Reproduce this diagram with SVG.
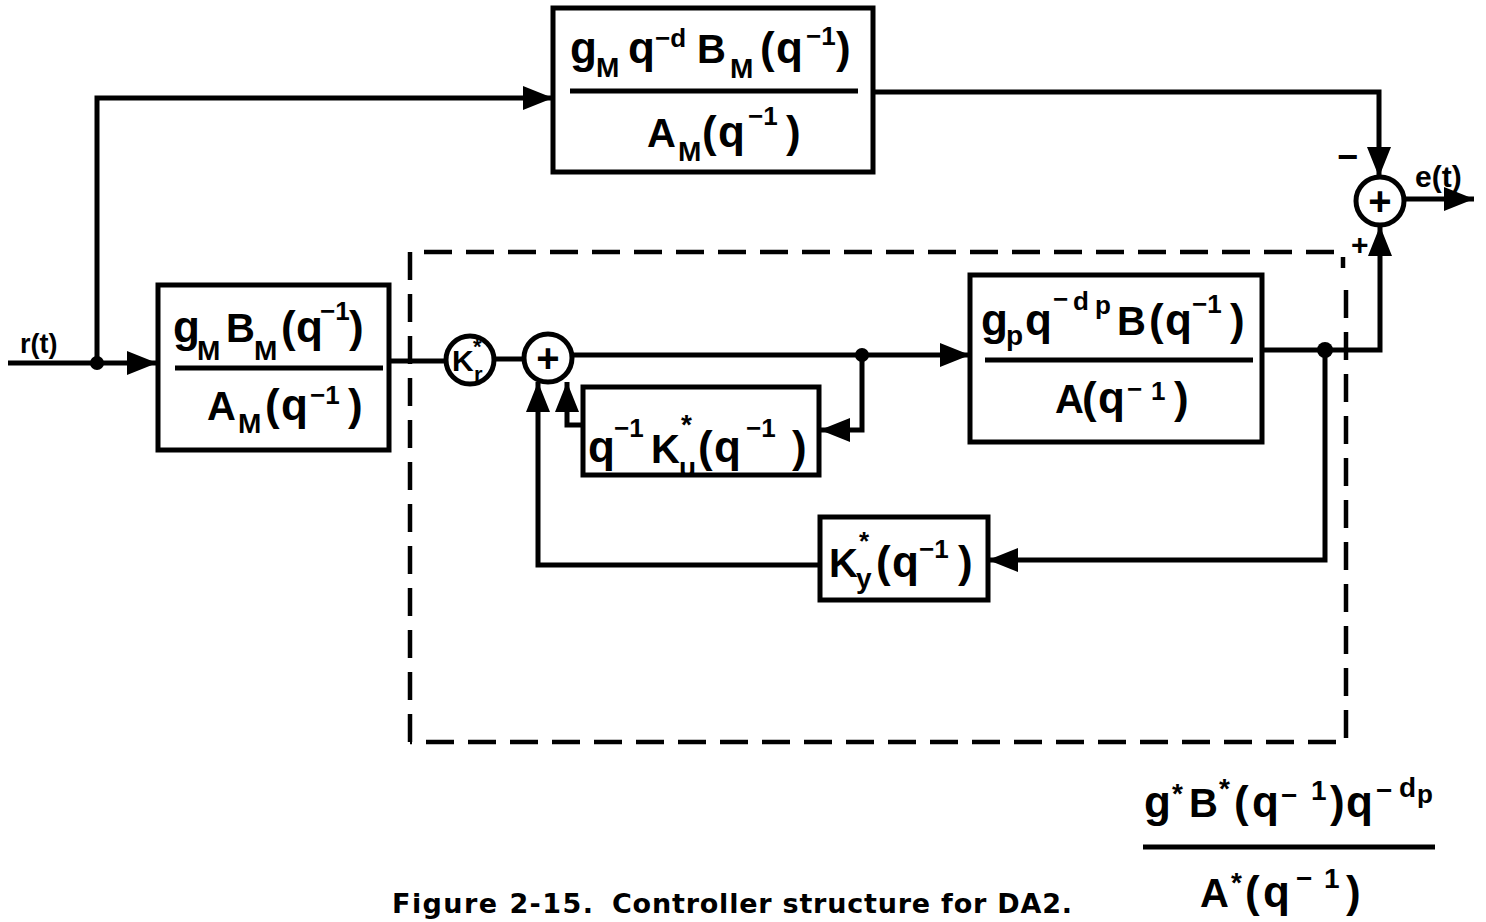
<svg xmlns="http://www.w3.org/2000/svg" width="1486" height="922" viewBox="0 0 1486 922">
<style>
.t{font-family:"Liberation Sans",Arial,sans-serif;font-weight:bold;fill:#000}
.cap{font-family:"DejaVu Sans","Liberation Sans",sans-serif;font-weight:bold;font-size:27px;fill:#000}
.L{font-size:40px}.q{font-size:44px}.s{font-size:26px}.b{font-size:28px}
.box{fill:#fff;stroke:#000;stroke-width:5}
.w{fill:none;stroke:#000;stroke-width:5;stroke-linejoin:miter}
.frac{stroke:#000;stroke-width:5}
.dash{fill:none;stroke:#000;stroke-width:4.5;stroke-dasharray:28 14}
.circ{fill:#fff;stroke:#000;stroke-width:5}
</style>
<defs>
<marker id="ah" markerUnits="userSpaceOnUse" markerWidth="32" markerHeight="24" refX="30" refY="12" orient="auto">
<path d="M0,0 L30,12 L0,24 z" fill="#000"/>
</marker>
</defs>
<rect width="1486" height="922" fill="#fff"/>

<g id="dashed-boundary">
<path class="dash" d="M410,742 V252 H1343 V268 M1346,290 V742 H410"/>
</g>

<g id="connectors">
<path class="w" d="M8,363 H157" marker-end="url(#ah)"/>
<path class="w" d="M97,363 V98 H553" marker-end="url(#ah)"/>
<path class="w" d="M873,92 H1379 V177" marker-end="url(#ah)"/>
<path class="w" d="M390,361 H446"/>
<path class="w" d="M494,359 H524"/>
<path class="w" d="M572,355 H970" marker-end="url(#ah)"/>
<path class="w" d="M862,355 V430 H820" marker-end="url(#ah)"/>
<path class="w" d="M583,425 H567 V382" marker-end="url(#ah)"/>
<path class="w" d="M820,565 H538 V382" marker-end="url(#ah)"/>
<path class="w" d="M1262,350 H1380 V226" marker-end="url(#ah)"/>
<path class="w" d="M1325,350 V560 H988" marker-end="url(#ah)"/>
<path class="w" d="M1404,199 H1474" marker-end="url(#ah)"/>
<circle cx="97" cy="363" r="7"/>
<circle cx="862" cy="355" r="7"/>
<circle cx="1325" cy="350" r="8"/>
</g>

<g id="input-label">
<text class="t" x="20" y="353" font-size="27">r(t)</text>
</g>

<g id="reference-model">
<rect class="box" x="553" y="8" width="320" height="164"/>
<line class="frac" x1="570" y1="91" x2="858" y2="91"/>
<text class="t"><tspan class="q" x="570" y="63">g</tspan><tspan class="b" x="596" y="77">M</tspan><tspan class="q" x="628" y="63">q</tspan><tspan class="s" x="655" y="47">−d</tspan><tspan class="L" x="697" y="63">B</tspan><tspan class="b" x="730" y="78">M</tspan><tspan class="q" x="760" y="63">(</tspan><tspan class="q" x="776" y="63">q</tspan><tspan class="s" x="806" y="45">−1</tspan><tspan class="q" x="836" y="63">)</tspan></text>
<text class="t"><tspan class="L" x="647" y="147">A</tspan><tspan class="b" x="678" y="161">M</tspan><tspan class="q" x="702" y="147">(</tspan><tspan class="q" x="718" y="147">q</tspan><tspan class="s" x="748" y="125">−1</tspan><tspan class="q" x="786" y="147">)</tspan></text>
</g>

<g id="prefilter">
<rect class="box" x="158" y="285" width="231" height="165"/>
<line class="frac" x1="175" y1="368" x2="383" y2="368"/>
<text class="t"><tspan class="q" x="173" y="342">g</tspan><tspan class="b" x="197" y="360">M</tspan><tspan class="L" x="226" y="342">B</tspan><tspan class="b" x="254" y="360">M</tspan><tspan class="q" x="281" y="342">(</tspan><tspan class="q" x="296" y="342">q</tspan><tspan class="s" x="320" y="320">−1</tspan><tspan class="q" x="349" y="342">)</tspan></text>
<text class="t"><tspan class="L" x="207" y="420">A</tspan><tspan class="b" x="238" y="433">M</tspan><tspan class="q" x="265" y="420">(</tspan><tspan class="q" x="281" y="420">q</tspan><tspan class="s" x="310" y="404">−1</tspan><tspan class="q" x="348" y="420">)</tspan></text>
</g>

<g id="kr-gain">
<circle class="circ" cx="470" cy="360" r="24"/>
<text class="t"><tspan x="452" y="371" font-size="30">K</tspan><tspan x="473" y="354" font-size="22">*</tspan><tspan x="474" y="382" font-size="22">r</tspan></text>
</g>

<g id="sum-inner">
<circle class="circ" cx="548" cy="358" r="24"/>
<text class="t" x="548" y="372" font-size="40" text-anchor="middle">+</text>
</g>

<g id="ku-block">
<rect class="box" x="583" y="387" width="236" height="88"/>
<text class="t"><tspan class="q" x="588" y="462">q</tspan><tspan class="s" x="614" y="437">−1</tspan><tspan class="L" x="651" y="463">K</tspan><tspan x="681" y="434" font-size="28">*</tspan><tspan class="b" x="679" y="477">u</tspan><tspan class="q" x="698" y="462">(</tspan><tspan class="q" x="714" y="462">q</tspan><tspan class="s" x="746" y="437">−1</tspan><tspan class="q" x="792" y="462">)</tspan></text>
</g>

<g id="plant">
<rect class="box" x="970" y="275" width="292" height="167"/>
<line class="frac" x1="985" y1="360" x2="1253" y2="360"/>
<text class="t"><tspan class="q" x="981" y="335">g</tspan><tspan class="b" x="1006" y="345">p</tspan><tspan class="q" x="1025" y="335">q</tspan><tspan class="s" x="1053" y="308">−</tspan><tspan class="s" x="1073" y="310">d</tspan><tspan class="s" x="1095" y="314">p</tspan><tspan class="L" x="1117" y="335">B</tspan><tspan class="q" x="1149" y="335">(</tspan><tspan class="q" x="1165" y="335">q</tspan><tspan class="s" x="1192" y="313">−1</tspan><tspan class="q" x="1230" y="335">)</tspan></text>
<text class="t"><tspan class="L" x="1055" y="413">A</tspan><tspan class="q" x="1082" y="413">(</tspan><tspan class="q" x="1098" y="413">q</tspan><tspan class="s" x="1127" y="398">−</tspan><tspan class="s" x="1151" y="400">1</tspan><tspan class="q" x="1174" y="413">)</tspan></text>
</g>

<g id="ky-block">
<rect class="box" x="820" y="517" width="168" height="83"/>
<text class="t"><tspan class="L" x="829" y="577">K</tspan><tspan x="859" y="550" font-size="26">*</tspan><tspan class="b" x="856" y="588">y</tspan><tspan class="q" x="876" y="577">(</tspan><tspan class="q" x="892" y="577">q</tspan><tspan class="s" x="919" y="558">−1</tspan><tspan class="q" x="958" y="577">)</tspan></text>
</g>

<g id="sum-output">
<circle class="circ" cx="1380" cy="201" r="24"/>
<text class="t" x="1380" y="215" font-size="40" text-anchor="middle">+</text>
<text class="t" x="1337" y="169" font-size="36">−</text>
<text class="t" x="1351" y="255" font-size="30">+</text>
<text class="t" x="1415" y="187" font-size="30">e(t)</text>
</g>

<g id="closed-loop-formula">
<line class="frac" x1="1143" y1="847" x2="1435" y2="847"/>
<text class="t"><tspan class="q" x="1144" y="817">g</tspan><tspan x="1172" y="803" font-size="28">*</tspan><tspan class="L" x="1189" y="817">B</tspan><tspan x="1219" y="798" font-size="28">*</tspan><tspan class="q" x="1234" y="817">(</tspan><tspan class="q" x="1252" y="817">q</tspan><tspan class="b" x="1281" y="805">−</tspan><tspan class="b" x="1311" y="800">1</tspan><tspan class="q" x="1330" y="817">)</tspan><tspan class="q" x="1346" y="817">q</tspan><tspan class="b" x="1376" y="800">−</tspan><tspan class="b" x="1399" y="797">d</tspan><tspan class="s" x="1417" y="803">p</tspan></text>
<text class="t"><tspan class="L" x="1200" y="907">A</tspan><tspan x="1231" y="892" font-size="28">*</tspan><tspan class="q" x="1245" y="907">(</tspan><tspan class="q" x="1263" y="907">q</tspan><tspan class="b" x="1296" y="888">−</tspan><tspan class="b" x="1324" y="888">1</tspan><tspan class="q" x="1346" y="907">)</tspan></text>
</g>

<g id="caption">
<text class="cap" x="392" y="913" textLength="201" lengthAdjust="spacing">Figure 2-15.</text>
<text class="cap" x="612" y="913" textLength="460" lengthAdjust="spacing">Controller structure for DA2.</text>
</g>
</svg>
